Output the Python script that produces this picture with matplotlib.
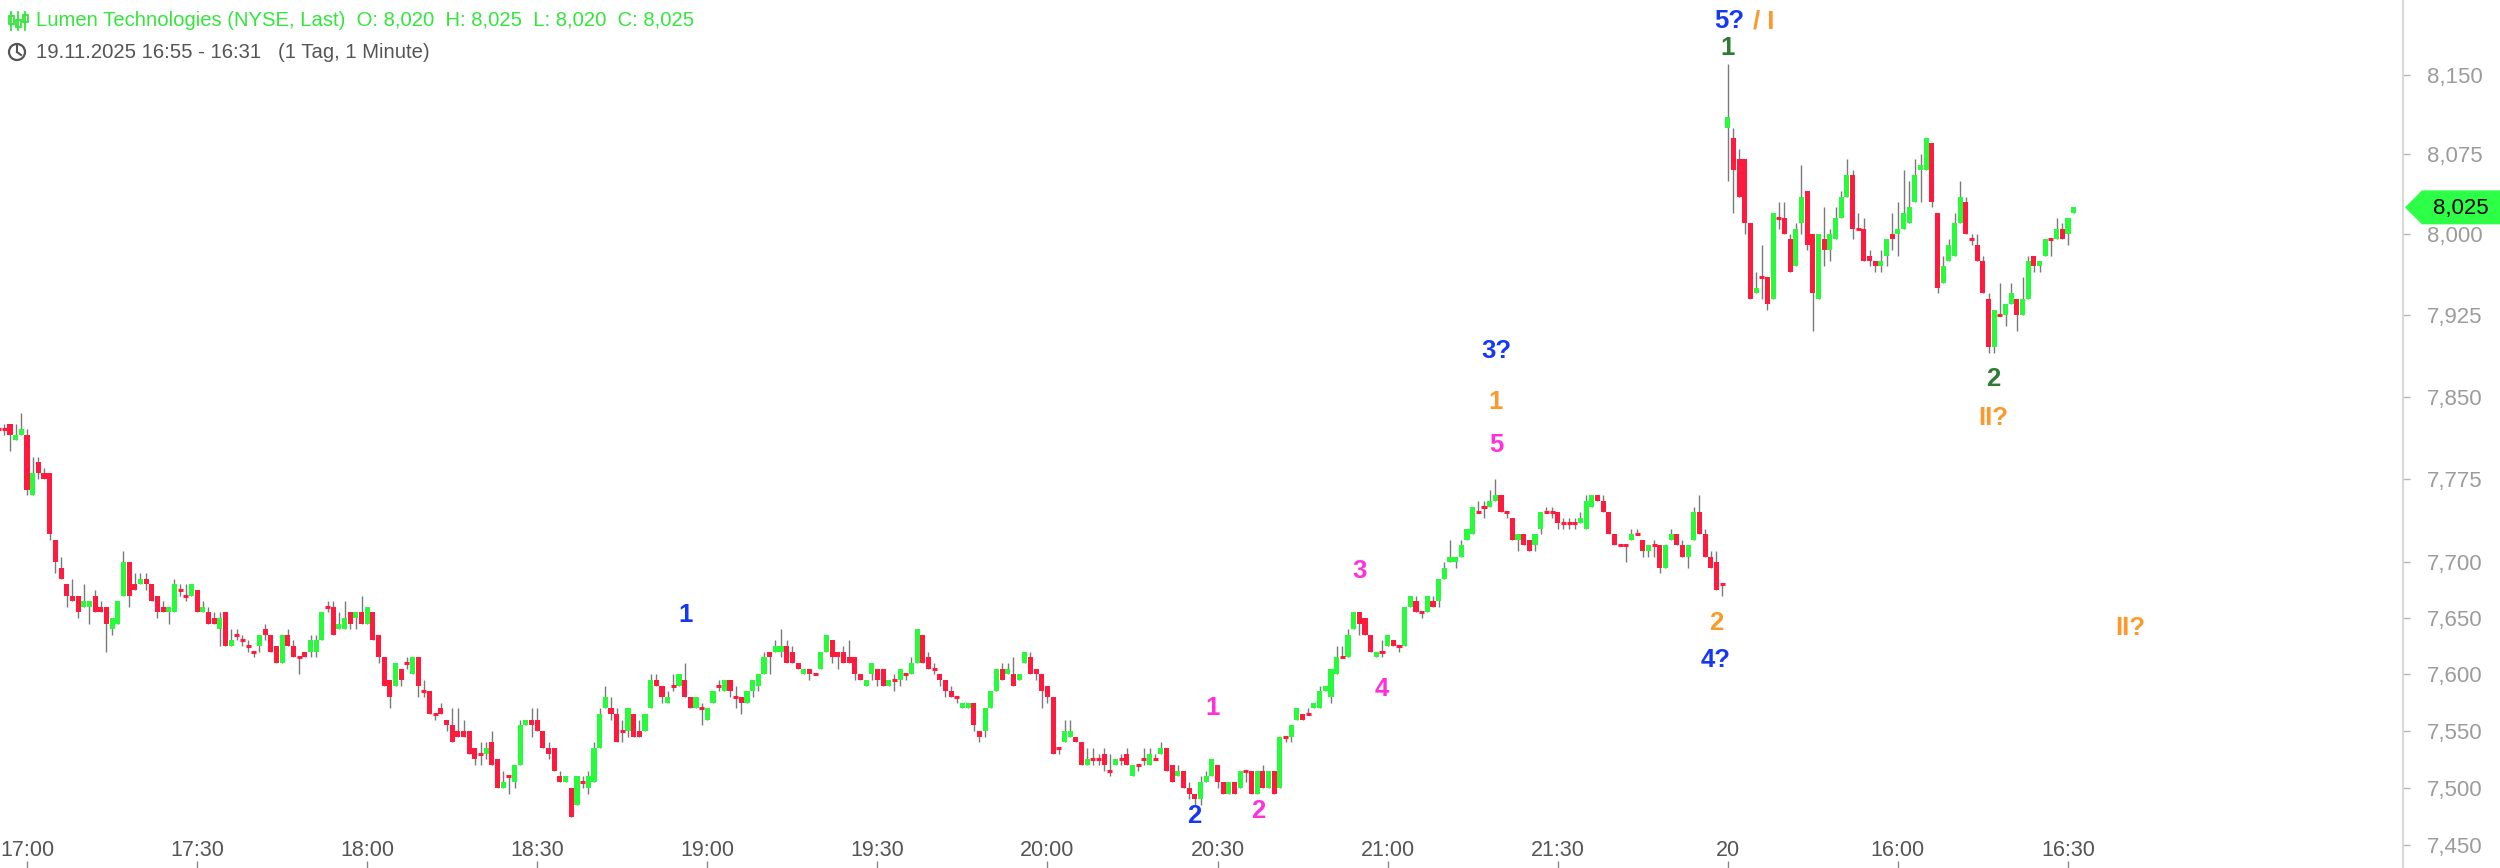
import numpy as np
import matplotlib
matplotlib.use("Agg")
import matplotlib.pyplot as plt
from matplotlib.ticker import FixedLocator, FuncFormatter, NullLocator, NullFormatter
from matplotlib.patches import Polygon, Circle, Rectangle
from matplotlib.lines import Line2D
from matplotlib.transforms import blended_transform_factory

plt.rcParams['font.family'] = ['Liberation Sans', 'DejaVu Sans']

# ------------------------------------------------------------------ data
title = "Lumen Technologies (NYSE, Last)  O: 8,020  H: 8,025  L: 8,020  C: 8,025"
subtitle = "19.11.2025 16:55 - 16:31   (1 Tag, 1 Minute)"
session1_start = "16:55"
session2_start = "15:30"

d1_open = [
    7.820, 7.820, 7.825, 7.810, 7.815, 7.815, 7.760, 7.790, 7.780, 7.780,
    7.720, 7.695, 7.680, 7.670, 7.670, 7.660, 7.660, 7.670, 7.660, 7.660,
    7.640, 7.645, 7.670, 7.700, 7.680, 7.680, 7.685, 7.680, 7.670, 7.660,
    7.655, 7.655, 7.675, 7.670, 7.670, 7.675, 7.655, 7.655, 7.650, 7.640,
    7.655, 7.625, 7.635, 7.630, 7.625, 7.620, 7.625, 7.640, 7.635, 7.625,
    7.610, 7.635, 7.625, 7.615, 7.620, 7.620, 7.620, 7.630, 7.660, 7.660,
    7.640, 7.640, 7.655, 7.650, 7.655, 7.645, 7.655, 7.635, 7.615, 7.595,
    7.590, 7.605, 7.610, 7.600, 7.615, 7.585, 7.585, 7.565, 7.570, 7.560,
    7.555, 7.550, 7.550, 7.550, 7.535, 7.530, 7.530, 7.540, 7.525, 7.500,
    7.510, 7.505, 7.520, 7.555, 7.560, 7.560, 7.550, 7.535, 7.535, 7.510,
    7.505, 7.500, 7.485, 7.505, 7.500, 7.505, 7.535, 7.570, 7.570, 7.565,
    7.550, 7.550, 7.565, 7.550, 7.550, 7.570, 7.595, 7.590, 7.575, 7.590,
    7.590, 7.595, 7.580, 7.570, 7.570, 7.560, 7.575, 7.590, 7.585, 7.595,
    7.580, 7.580, 7.575, 7.585, 7.590, 7.600, 7.620, 7.620, 7.620, 7.625,
    7.620, 7.610, 7.600, 7.605, 7.600, 7.605, 7.620, 7.630, 7.620, 7.620,
    7.615, 7.615, 7.600, 7.590, 7.600, 7.605, 7.605, 7.590, 7.595, 7.595,
    7.600, 7.600, 7.610, 7.635, 7.615, 7.605, 7.600, 7.595, 7.585, 7.580,
    7.570, 7.570, 7.575, 7.550, 7.550, 7.570, 7.585, 7.605, 7.600, 7.600,
    7.595, 7.610, 7.615, 7.605, 7.600, 7.590, 7.580, 7.535, 7.540, 7.545,
    7.545, 7.540, 7.520, 7.525, 7.525, 7.530, 7.515, 7.520, 7.525, 7.530,
    7.510, 7.520, 7.525, 7.520, 7.525, 7.530, 7.535, 7.520, 7.510, 7.515,
    7.500, 7.495, 7.490, 7.505, 7.510, 7.520, 7.505, 7.495, 7.505, 7.500,
    7.515, 7.515, 7.495, 7.515, 7.500, 7.515, 7.500, 7.545, 7.545, 7.560,
    7.565, 7.565, 7.570, 7.570, 7.585, 7.580, 7.600, 7.615, 7.615, 7.640,
    7.655, 7.650, 7.635, 7.615, 7.620, 7.625, 7.630, 7.625, 7.625, 7.660,
    7.665, 7.655, 7.655, 7.665, 7.665, 7.685, 7.700, 7.700, 7.705, 7.720,
    7.725, 7.745, 7.750, 7.750, 7.755, 7.760, 7.745, 7.740, 7.720, 7.725,
    7.720, 7.715, 7.730, 7.745, 7.745, 7.745, 7.735, 7.735, 7.735, 7.735,
    7.730, 7.750, 7.760, 7.755, 7.745, 7.725, 7.715, 7.715, 7.720, 7.725,
    7.720, 7.710, 7.715, 7.715, 7.695, 7.720, 7.725, 7.715, 7.705, 7.720,
    7.745, 7.725, 7.705, 7.700, 7.680,
]
d1_high = [
    7.825, 7.825, 7.825, 7.825, 7.835, 7.820, 7.795, 7.795, 7.785, 7.780,
    7.720, 7.705, 7.680, 7.685, 7.670, 7.680, 7.665, 7.675, 7.665, 7.660,
    7.650, 7.665, 7.710, 7.700, 7.690, 7.690, 7.690, 7.680, 7.670, 7.665,
    7.660, 7.685, 7.680, 7.680, 7.680, 7.675, 7.665, 7.660, 7.655, 7.655,
    7.655, 7.640, 7.640, 7.635, 7.630, 7.620, 7.635, 7.645, 7.635, 7.625,
    7.635, 7.640, 7.630, 7.615, 7.620, 7.635, 7.635, 7.655, 7.665, 7.665,
    7.655, 7.665, 7.655, 7.655, 7.670, 7.660, 7.655, 7.635, 7.615, 7.595,
    7.610, 7.605, 7.615, 7.615, 7.615, 7.595, 7.585, 7.565, 7.575, 7.560,
    7.570, 7.570, 7.560, 7.550, 7.535, 7.540, 7.540, 7.550, 7.525, 7.515,
    7.510, 7.520, 7.560, 7.560, 7.570, 7.570, 7.550, 7.540, 7.535, 7.515,
    7.510, 7.500, 7.510, 7.510, 7.515, 7.540, 7.570, 7.590, 7.580, 7.570,
    7.560, 7.570, 7.565, 7.560, 7.565, 7.600, 7.600, 7.590, 7.585, 7.600,
    7.600, 7.610, 7.580, 7.580, 7.575, 7.570, 7.585, 7.595, 7.595, 7.595,
    7.590, 7.580, 7.585, 7.595, 7.600, 7.620, 7.620, 7.630, 7.640, 7.630,
    7.625, 7.610, 7.605, 7.605, 7.600, 7.620, 7.635, 7.630, 7.620, 7.625,
    7.630, 7.615, 7.600, 7.595, 7.610, 7.605, 7.605, 7.595, 7.600, 7.605,
    7.600, 7.615, 7.640, 7.635, 7.620, 7.610, 7.600, 7.595, 7.590, 7.580,
    7.575, 7.575, 7.575, 7.550, 7.570, 7.585, 7.605, 7.610, 7.610, 7.615,
    7.600, 7.620, 7.620, 7.605, 7.600, 7.590, 7.580, 7.535, 7.560, 7.560,
    7.545, 7.540, 7.535, 7.535, 7.530, 7.535, 7.530, 7.525, 7.530, 7.535,
    7.520, 7.520, 7.535, 7.535, 7.530, 7.540, 7.535, 7.520, 7.520, 7.515,
    7.505, 7.495, 7.510, 7.515, 7.525, 7.520, 7.505, 7.505, 7.505, 7.515,
    7.515, 7.515, 7.515, 7.520, 7.515, 7.515, 7.545, 7.545, 7.555, 7.570,
    7.565, 7.570, 7.575, 7.590, 7.590, 7.605, 7.625, 7.625, 7.640, 7.655,
    7.655, 7.650, 7.635, 7.620, 7.630, 7.635, 7.630, 7.625, 7.660, 7.670,
    7.670, 7.655, 7.670, 7.670, 7.685, 7.700, 7.720, 7.705, 7.720, 7.730,
    7.750, 7.755, 7.755, 7.765, 7.775, 7.760, 7.745, 7.740, 7.725, 7.725,
    7.720, 7.725, 7.745, 7.750, 7.750, 7.745, 7.740, 7.740, 7.740, 7.745,
    7.760, 7.760, 7.760, 7.760, 7.745, 7.725, 7.715, 7.715, 7.730, 7.730,
    7.720, 7.715, 7.720, 7.715, 7.715, 7.730, 7.725, 7.720, 7.715, 7.750,
    7.760, 7.730, 7.710, 7.710, 7.680,
]
d1_low = [
    7.815, 7.815, 7.800, 7.810, 7.815, 7.760, 7.760, 7.775, 7.775, 7.720,
    7.690, 7.685, 7.660, 7.665, 7.650, 7.660, 7.645, 7.655, 7.655, 7.620,
    7.635, 7.645, 7.670, 7.660, 7.675, 7.680, 7.675, 7.665, 7.650, 7.655,
    7.645, 7.655, 7.670, 7.665, 7.670, 7.655, 7.655, 7.645, 7.645, 7.625,
    7.625, 7.625, 7.630, 7.625, 7.620, 7.615, 7.620, 7.630, 7.620, 7.610,
    7.610, 7.625, 7.615, 7.600, 7.615, 7.615, 7.615, 7.630, 7.655, 7.635,
    7.640, 7.640, 7.640, 7.640, 7.645, 7.645, 7.630, 7.610, 7.590, 7.570,
    7.590, 7.590, 7.605, 7.600, 7.580, 7.580, 7.565, 7.560, 7.565, 7.550,
    7.540, 7.545, 7.545, 7.530, 7.520, 7.520, 7.525, 7.520, 7.500, 7.500,
    7.495, 7.500, 7.520, 7.555, 7.545, 7.550, 7.535, 7.525, 7.515, 7.505,
    7.505, 7.475, 7.485, 7.500, 7.495, 7.505, 7.535, 7.570, 7.560, 7.540,
    7.540, 7.545, 7.545, 7.545, 7.550, 7.570, 7.590, 7.575, 7.575, 7.585,
    7.590, 7.580, 7.570, 7.570, 7.555, 7.560, 7.575, 7.585, 7.585, 7.580,
    7.570, 7.565, 7.575, 7.580, 7.585, 7.600, 7.600, 7.620, 7.615, 7.610,
    7.610, 7.605, 7.600, 7.595, 7.600, 7.605, 7.620, 7.610, 7.605, 7.610,
    7.610, 7.595, 7.595, 7.590, 7.595, 7.590, 7.590, 7.590, 7.585, 7.590,
    7.595, 7.600, 7.610, 7.610, 7.605, 7.600, 7.590, 7.580, 7.580, 7.575,
    7.570, 7.570, 7.550, 7.540, 7.545, 7.570, 7.585, 7.595, 7.600, 7.590,
    7.595, 7.610, 7.600, 7.595, 7.570, 7.575, 7.530, 7.530, 7.540, 7.545,
    7.540, 7.520, 7.520, 7.520, 7.520, 7.515, 7.510, 7.520, 7.520, 7.520,
    7.510, 7.515, 7.520, 7.520, 7.525, 7.530, 7.515, 7.505, 7.510, 7.500,
    7.490, 7.485, 7.485, 7.505, 7.510, 7.500, 7.495, 7.495, 7.495, 7.500,
    7.505, 7.495, 7.495, 7.500, 7.500, 7.495, 7.500, 7.540, 7.540, 7.560,
    7.560, 7.565, 7.570, 7.570, 7.585, 7.575, 7.600, 7.615, 7.615, 7.640,
    7.635, 7.635, 7.620, 7.615, 7.615, 7.625, 7.625, 7.620, 7.625, 7.660,
    7.655, 7.650, 7.655, 7.660, 7.660, 7.685, 7.700, 7.695, 7.705, 7.720,
    7.725, 7.745, 7.740, 7.750, 7.755, 7.745, 7.740, 7.720, 7.710, 7.715,
    7.710, 7.710, 7.725, 7.745, 7.740, 7.730, 7.730, 7.730, 7.730, 7.735,
    7.730, 7.750, 7.755, 7.745, 7.725, 7.715, 7.715, 7.700, 7.720, 7.725,
    7.705, 7.705, 7.705, 7.690, 7.695, 7.720, 7.715, 7.705, 7.695, 7.720,
    7.725, 7.705, 7.695, 7.675, 7.670,
]
d1_close = [
    7.820, 7.820, 7.815, 7.815, 7.820, 7.765, 7.780, 7.780, 7.775, 7.725,
    7.700, 7.685, 7.670, 7.665, 7.655, 7.665, 7.665, 7.655, 7.655, 7.645,
    7.650, 7.665, 7.700, 7.670, 7.675, 7.685, 7.680, 7.665, 7.655, 7.655,
    7.660, 7.680, 7.675, 7.670, 7.680, 7.655, 7.660, 7.645, 7.645, 7.650,
    7.625, 7.630, 7.635, 7.630, 7.625, 7.620, 7.635, 7.635, 7.620, 7.610,
    7.635, 7.625, 7.615, 7.615, 7.615, 7.630, 7.630, 7.655, 7.660, 7.635,
    7.645, 7.650, 7.645, 7.655, 7.645, 7.660, 7.630, 7.615, 7.590, 7.580,
    7.610, 7.595, 7.610, 7.615, 7.590, 7.585, 7.565, 7.565, 7.565, 7.555,
    7.540, 7.545, 7.545, 7.530, 7.525, 7.530, 7.535, 7.520, 7.500, 7.505,
    7.510, 7.520, 7.555, 7.560, 7.555, 7.550, 7.535, 7.530, 7.515, 7.505,
    7.510, 7.475, 7.510, 7.505, 7.510, 7.535, 7.565, 7.580, 7.565, 7.540,
    7.550, 7.570, 7.545, 7.545, 7.565, 7.595, 7.590, 7.580, 7.580, 7.590,
    7.600, 7.580, 7.570, 7.580, 7.570, 7.570, 7.585, 7.590, 7.595, 7.585,
    7.580, 7.575, 7.585, 7.595, 7.600, 7.615, 7.615, 7.625, 7.625, 7.610,
    7.610, 7.605, 7.605, 7.600, 7.600, 7.620, 7.635, 7.615, 7.615, 7.610,
    7.610, 7.600, 7.595, 7.595, 7.610, 7.595, 7.590, 7.595, 7.595, 7.605,
    7.600, 7.610, 7.640, 7.610, 7.605, 7.605, 7.595, 7.585, 7.580, 7.580,
    7.575, 7.575, 7.555, 7.545, 7.570, 7.585, 7.605, 7.595, 7.605, 7.590,
    7.600, 7.620, 7.600, 7.600, 7.585, 7.580, 7.530, 7.535, 7.550, 7.550,
    7.540, 7.520, 7.525, 7.525, 7.525, 7.520, 7.515, 7.525, 7.525, 7.520,
    7.520, 7.520, 7.525, 7.530, 7.525, 7.535, 7.515, 7.505, 7.515, 7.500,
    7.495, 7.490, 7.505, 7.510, 7.525, 7.505, 7.495, 7.505, 7.495, 7.515,
    7.515, 7.495, 7.515, 7.500, 7.515, 7.495, 7.545, 7.545, 7.555, 7.570,
    7.560, 7.565, 7.575, 7.585, 7.590, 7.605, 7.615, 7.615, 7.635, 7.655,
    7.645, 7.635, 7.620, 7.620, 7.620, 7.635, 7.625, 7.625, 7.660, 7.670,
    7.655, 7.655, 7.670, 7.660, 7.685, 7.695, 7.705, 7.705, 7.715, 7.730,
    7.750, 7.745, 7.750, 7.755, 7.760, 7.745, 7.745, 7.720, 7.725, 7.715,
    7.710, 7.725, 7.745, 7.745, 7.745, 7.735, 7.735, 7.735, 7.735, 7.740,
    7.755, 7.760, 7.755, 7.745, 7.725, 7.715, 7.715, 7.715, 7.725, 7.725,
    7.710, 7.715, 7.715, 7.695, 7.715, 7.725, 7.715, 7.705, 7.715, 7.745,
    7.725, 7.705, 7.695, 7.675, 7.680,
]

d2_open = [
    8.100, 8.090, 8.070, 8.070, 8.010, 7.945, 7.960, 7.960, 7.940, 8.015,
    8.015, 7.995, 7.970, 8.010, 8.040, 8.000, 7.940, 7.995, 7.985, 7.995,
    8.015, 8.035, 8.055, 8.005, 8.005, 7.980, 7.975, 7.970, 7.980, 8.000,
    8.000, 8.005, 8.010, 8.030, 8.060, 8.060, 8.085, 8.020, 7.955, 7.975,
    7.980, 8.010, 8.030, 7.995, 7.990, 7.975, 7.940, 7.895, 7.925, 7.925,
    7.935, 7.940, 7.925, 7.940, 7.980, 7.970, 7.980, 7.995, 7.995, 8.005,
    8.000, 8.020,
]
d2_high = [
    8.160, 8.100, 8.080, 8.070, 8.010, 7.965, 7.990, 7.960, 8.020, 8.030,
    8.030, 8.000, 8.010, 8.065, 8.040, 8.000, 8.000, 8.025, 8.005, 8.025,
    8.040, 8.070, 8.060, 8.020, 8.015, 7.985, 7.975, 7.985, 7.995, 8.020,
    8.030, 8.060, 8.050, 8.070, 8.075, 8.090, 8.085, 8.020, 7.980, 7.995,
    8.020, 8.050, 8.035, 8.000, 8.000, 7.980, 7.945, 7.930, 7.955, 7.935,
    7.955, 7.940, 7.960, 7.980, 7.980, 7.975, 7.995, 7.995, 8.015, 8.010,
    8.015, 8.025,
]
d2_low = [
    8.050, 8.020, 8.035, 8.000, 7.940, 7.945, 7.940, 7.930, 7.940, 8.005,
    8.000, 7.965, 7.970, 8.000, 7.985, 7.910, 7.940, 7.970, 7.975, 7.995,
    8.015, 8.035, 7.995, 8.005, 7.975, 7.970, 7.965, 7.965, 7.970, 7.985,
    7.980, 8.005, 8.010, 8.030, 8.030, 8.060, 8.025, 7.945, 7.955, 7.975,
    7.980, 8.010, 8.000, 7.990, 7.975, 7.945, 7.890, 7.890, 7.925, 7.915,
    7.935, 7.910, 7.925, 7.940, 7.965, 7.965, 7.980, 7.980, 7.995, 7.995,
    7.990, 8.020,
]
d2_close = [
    8.110, 8.060, 8.035, 8.010, 7.940, 7.950, 7.960, 7.935, 8.020, 8.015,
    8.000, 7.965, 8.005, 8.035, 7.990, 7.945, 8.000, 7.985, 8.000, 8.015,
    8.035, 8.055, 8.005, 8.005, 7.975, 7.975, 7.970, 7.975, 7.995, 7.995,
    8.005, 8.020, 8.025, 8.055, 8.065, 8.090, 8.030, 7.950, 7.970, 7.990,
    8.010, 8.035, 8.000, 7.995, 7.975, 7.945, 7.895, 7.930, 7.925, 7.935,
    7.945, 7.925, 7.940, 7.975, 7.970, 7.975, 7.995, 7.995, 8.005, 7.995,
    8.015, 8.025,
]

# time axis labels: (label, session, clock time)
time_ticks = [
    ("17:00", 1, "17:00"), ("17:30", 1, "17:30"), ("18:00", 1, "18:00"),
    ("18:30", 1, "18:30"), ("19:00", 1, "19:00"), ("19:30", 1, "19:30"),
    ("20:00", 1, "20:00"), ("20:30", 1, "20:30"), ("21:00", 1, "21:00"),
    ("21:30", 1, "21:30"), ("20", 2, "15:30"), ("16:00", 2, "16:00"),
    ("16:30", 2, "16:30"),
]
price_ticks = [7.45, 7.50, 7.55, 7.60, 7.65, 7.70, 7.775, 7.85, 7.925, 8.00, 8.075, 8.15]
last_price = 8.025

# Elliott wave annotations: (text, colour key, candle index, price)
wave_labels = [
    ("1", "blue", 121.2, 7.653),
    ("2", "blue", 210.8, 7.4755),
    ("1", "magenta", 214.2, 7.570),
    ("2", "magenta", 222.1, 7.480),
    ("3", "magenta", 240.1, 7.692),
    ("4", "magenta", 244.0, 7.587),
    ("5", "magenta", 264.1, 7.806),
    ("1", "orange", 264.1, 7.845),
    ("3?", "blue", 264.1, 7.892),
    ("2", "orange", 302.9, 7.6455),
    ("4?", "blue", 302.9, 7.6126),
    ("5?", "blue", 305.2, 8.2012),
    ("/ I", "orange", 311.4, 8.2012),
    ("1", "green", 305.0, 8.1754),
    ("2", "green", 351.9, 7.866),
    ("II?", "orange", 351.9, 7.830),
    ("II?", "orange", 376.0, 7.641),
]

# ------------------------------------------------------------------ style
W, H = 2500, 868
GREEN = '#27fb3c'
RED = '#ff1a3e'
WICK = '#7a7a7a'
WAVE_COLORS = {"blue": "#1438f5", "magenta": "#ff2fdc", "orange": "#ff982a",
               "green": "#2e7b32"}

opens = np.array(d1_open + d2_open)
highs = np.array(d1_high + d2_high)
lows = np.array(d1_low + d2_low)
closes = np.array(d1_close + d2_close)
idx = np.arange(len(opens))


def minutes(t):
    h, m = t.split(":")
    return int(h) * 60 + int(m)


tick_pos = []
for lab, sess, clock in time_ticks:
    if sess == 1:
        tick_pos.append(minutes(clock) - minutes(session1_start))
    else:
        tick_pos.append(len(d1_open) + minutes(clock) - minutes(session2_start))

fig = plt.figure(figsize=(W / 100, H / 100), dpi=100)
fig.patch.set_facecolor('white')
ax = fig.add_axes([0, 0, 2403 / W, 1])
ax.set_facecolor('white')
ax.set_yscale('log')
ax.set_xlim(0.23, 424.1)
ax.set_ylim(7.4303, 8.2213)

# candles
BW = 0.9
ax.vlines(idx, lows, highs, color=WICK, lw=1.0, zorder=1)
up = closes > opens + 1e-9
dn = closes < opens - 1e-9
flat = ~(up | dn)
ax.bar(idx[up], (closes - opens)[up], bottom=opens[up], width=BW,
       color=GREEN, linewidth=0, zorder=2)
ax.bar(idx[dn], (closes - opens)[dn], bottom=opens[dn], width=BW,
       color=RED, linewidth=0, zorder=2)
ax.hlines(closes[flat], idx[flat] - BW / 2, idx[flat] + BW / 2, color=RED, lw=2.2, zorder=2)

# wave labels
for txt, ck, xi, p in wave_labels:
    ax.text(xi, p, txt, color=WAVE_COLORS[ck], fontsize=18.5, fontweight='bold',
            ha='center', va='center', zorder=5)

# axes styling
for s in ['top', 'left', 'bottom']:
    ax.spines[s].set_visible(False)
ax.spines['right'].set_color('#d8d8d8')
ax.spines['right'].set_linewidth(1.5)

ax.yaxis.set_ticks_position('right')
ax.yaxis.set_major_locator(FixedLocator(price_ticks))
ax.yaxis.set_minor_locator(NullLocator())
ax.yaxis.set_minor_formatter(NullFormatter())
ax.yaxis.set_major_formatter(FuncFormatter(lambda v, pos: f"{v:.3f}".replace('.', ',')))
ax.tick_params(axis='y', direction='out', length=5, width=1.0, color='#b5b5b5',
               labelcolor='#9c9c9c', labelsize=16, pad=12)

ax.xaxis.set_ticks_position('bottom')
ax.xaxis.set_major_locator(FixedLocator(tick_pos))
ax.xaxis.set_major_formatter(NullFormatter())
ax.tick_params(axis='x', direction='in', length=5, width=1.0, color='#888888')
btrans = blended_transform_factory(ax.transData, ax.transAxes)
for (lab, _, _), xp in zip(time_ticks, tick_pos):
    ax.text(xp, 18 / H, lab, transform=btrans, ha='center', va='center',
            fontsize=15.5, color='#555555')

# ------------------------------------------------------------------ overlay (header, price badge)
ov = fig.add_axes([0, 0, 1, 1], facecolor='none')
ov.set_xlim(0, W)
ov.set_ylim(H, 0)
ov.axis('off')

HEAD_GREEN = '#33e63c'
# candle icon
for xc, y0, y1, b0, b1 in [(11, 12, 30, 16, 24), (18, 12, 30, 20, 27), (25, 12, 30, 15, 22)]:
    ov.add_line(Line2D([xc, xc], [y0, y1], color=HEAD_GREEN, lw=1.3))
    ov.add_patch(Rectangle((xc - 2.5, b0), 5, b1 - b0, fill=False, ec=HEAD_GREEN, lw=1.3))
ov.text(36, 21, title, color=HEAD_GREEN, fontsize=14.6, ha='left', va='center')

# clock icon
ov.add_patch(Circle((17, 52), 8, fill=False, ec='#555555', lw=1.6))
ov.add_line(Line2D([17, 17], [52, 46], color='#555555', lw=1.5))
ov.add_line(Line2D([17, 21], [52, 55], color='#555555', lw=1.5))
ov.text(36, 52, subtitle, color='#555555', fontsize=14.6, ha='left', va='center')

# last price badge
fig.canvas.draw()
yb = H - ax.transData.transform((1, last_price))[1]
badge = Polygon([(2405, yb), (2422, yb - 17), (2500, yb - 17), (2500, yb + 17), (2422, yb + 17)],
                closed=True, fc='#2dff47', ec='none')
ov.add_patch(badge)
ov.text(2461, yb + 1, f"{last_price:.3f}".replace('.', ','), color='black', fontsize=16,
        ha='center', va='center')

fig.savefig('out.png', dpi=100, facecolor='white')
